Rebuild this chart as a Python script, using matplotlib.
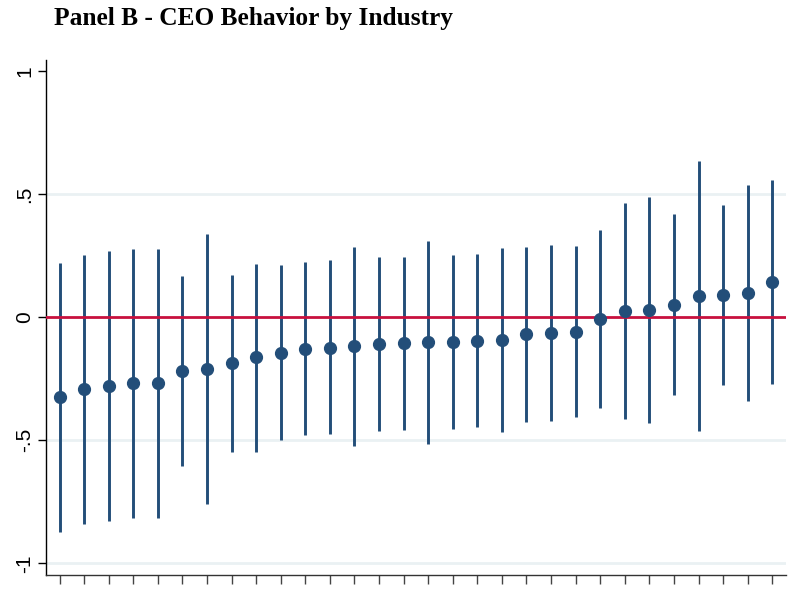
import matplotlib
matplotlib.use("Agg")
import matplotlib.pyplot as plt
import numpy as np

# Industry index (sorted by coefficient)
industry = list(range(1, 31))
coef = [-0.324, -0.292, -0.278, -0.268, -0.268, -0.219, -0.209, -0.184, -0.162, -0.143,
        -0.127, -0.123, -0.117, -0.108, -0.106, -0.102, -0.101, -0.096, -0.093, -0.067,
        -0.062, -0.058, -0.006, 0.024, 0.030, 0.052, 0.087, 0.090, 0.098, 0.144]
upper = [0.220, 0.253, 0.270, 0.277, 0.277, 0.166, 0.339, 0.173, 0.217, 0.212,
         0.224, 0.232, 0.287, 0.246, 0.246, 0.311, 0.254, 0.257, 0.280, 0.287,
         0.295, 0.291, 0.353, 0.463, 0.490, 0.418, 0.635, 0.456, 0.539, 0.559]
lower = [-0.873, -0.842, -0.827, -0.814, -0.814, -0.604, -0.759, -0.547, -0.549, -0.498,
         -0.480, -0.476, -0.525, -0.463, -0.457, -0.516, -0.455, -0.446, -0.465, -0.424,
         -0.421, -0.407, -0.367, -0.414, -0.428, -0.314, -0.463, -0.277, -0.342, -0.269]
ytick_vals = [-1, -0.5, 0, 0.5, 1]
ytick_labels = ["-1", "-.5", "0", ".5", "1"]

navy = "#234e79"
red = "#c8103e"
grid = "#eaf1f3"

fig = plt.figure(figsize=(8, 6), dpi=100)
ax = fig.add_axes([0.0578, 0.041, 0.9247, 0.859])

for v in [-1, -0.5, 0.5]:
    ax.axhline(v, color=grid, lw=2.0, zorder=0)

ax.vlines(industry, lower, upper, color=navy, lw=2.1, zorder=2)
ax.axhline(0, color=red, lw=2.0, zorder=3)
ax.plot(industry, coef, 'o', color=navy, ms=8.5, mec=navy, zorder=4)

ax.set_xlim(0.46, 30.56)
ax.set_ylim(-1.049, 1.046)

ax.set_yticks(ytick_vals)
ax.set_yticklabels(ytick_labels, rotation=90, va='center', fontsize=15,
                   family=['Liberation Sans', 'DejaVu Sans'])
ax.set_xticks(industry)
ax.set_xticklabels([])
ax.tick_params(axis='y', length=6, width=1, pad=2.5, color='black')
ax.tick_params(axis='x', length=6.5, width=1, color='#444444')

for s in ['top', 'right']:
    ax.spines[s].set_visible(False)
ax.spines['left'].set_linewidth(1.0)
ax.spines['bottom'].set_linewidth(1.0)
ax.spines['bottom'].set_color('#333333')

fig.text(54 / 800, 1 - 25 / 600, "Panel B - CEO Behavior by Industry",
         fontsize=18.3, fontweight='bold', va='baseline', ha='left',
         family=['Liberation Serif', 'DejaVu Serif'])

fig.savefig("out.png", dpi=100, facecolor='white')
